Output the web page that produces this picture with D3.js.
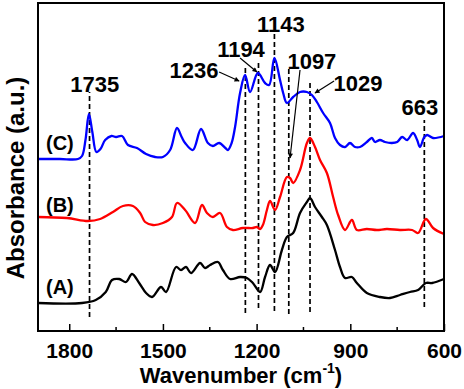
<!DOCTYPE html>
<html>
<head>
<meta charset="utf-8">
<script src="https://cdn.jsdelivr.net/npm/d3@7"></script>
<style>
  body { margin: 0; background: #fff; }
  svg { display: block; font-family: "Liberation Sans", Arial, sans-serif; font-weight: bold; }
</style>
</head>
<body>
<script>
// spectra, wavenumber (cm-1) and absorbance in arbitrary units
var wnC = [1900,1830,1772,1759,1748,1737,1726,1713,1700,1685,1665,1650,1631,1612,1583,1554,1525,1500,1477,1455,1440,1429,1404,1378,1356,1340,1320,1300,1292,1280,1269,1253,1237,1221,1196,1173,1160,1143,1125,1115,1103,1083,1061,1039,1023,1007,987,965,949,933,917,901,885,869,847,831,821,805,789,767,750,734,718,699,686,677,663,654,635,600];
var absC = [172,172,172,175,191,217,199,179,182,191,195,194,195,186,183,177,174,174,181,203,194,188,181,202,188,185,188,183,181,188,204,238,256,239,258,248,246,273,251,238,228,234,239,239,236,229,218,208,193,186,184,188,184,184,189,193,189,191,189,188,189,194,191,198,191,184,194,196,193,195];

var wnB = [1900,1807,1740,1701,1660,1628,1596,1573,1557,1532,1500,1471,1455,1429,1397,1375,1359,1340,1317,1295,1276,1244,1212,1199,1189,1180,1167,1157,1141,1125,1103,1093,1083,1061,1039,1029,1013,997,975,955,939,917,895,879,847,815,783,741,702,683,658,635,600];
var absB = [114,113,110,112,119,125,125,118,109,106,108,114,128,121,108,126,118,114,118,104,101,103,103,104,102,106,121,130,121,134,154,153,148,161,188,193,184,171,158,134,116,101,111,101,102,101,102,101,101,98,112,103,97];

var wnA = [1900,1759,1715,1683,1663,1640,1618,1599,1576,1554,1535,1506,1490,1458,1442,1426,1410,1381,1365,1349,1324,1308,1285,1253,1231,1212,1189,1173,1157,1141,1119,1103,1083,1061,1039,1029,1013,991,975,949,933,917,895,879,847,805,773,741,709,683,658,638,600];
var absA = [28,28,31,39,51,52,49,57,48,38,34,44,39,64,61,64,58,68,63,66,69,61,52,54,53,48,39,54,66,59,81,94,98,118,129,133,124,114,106,81,64,53,54,48,38,34,33,36,39,41,48,48,52];

var seriesNames = ["(A)", "(B)", "(C)"];
var xTicks = [1800, 1500, 1200, 900, 600];
var xMinorTicks = [1650, 1350, 1050, 750];
var peakWn = [1735, 1236, 1194, 1143, 1097, 1029, 663];
var peakLabels = ["1735", "1236", "1194", "1143", "1097", "1029", "663"];

window.onload = function(){

    var w = 464, h = 389;
    var left = 38, right = 444, top = 3, bottom = 331;

    var x = d3.scaleLinear().domain([1900, 600]).range([left, right]);
    var y = d3.scaleLinear().domain([0, 328]).range([bottom, top]);

    var svg = d3.select("body").append("svg")
        .attr("width", w)
        .attr("height", h);

    svg.append("defs").append("marker")
        .attr("id", "arrow")
        .attr("viewBox", "0 0 10 10")
        .attr("refX", 9).attr("refY", 5)
        .attr("markerWidth", 6).attr("markerHeight", 5)
        .attr("markerUnits", "userSpaceOnUse")
        .attr("orient", "auto")
        .append("path")
        .attr("d", "M0,0 L10,5 L0,10 Z")
        .attr("fill", "#000");

    var spectra = [
        { name: seriesNames[0], wn: wnA, abs: absA, color: "#000000", lx: 1830, ly: 37 },
        { name: seriesNames[1], wn: wnB, abs: absB, color: "#ff0000", lx: 1830, ly: 119 },
        { name: seriesNames[2], wn: wnC, abs: absC, color: "#0000ff", lx: 1830, ly: 181 }
    ];

    //dashed guide lines, extent in absorbance units
    var guideSpan = [[14,239],[18,266],[23,271],[20,297],[17,264],[19,251],[24,211]];
    //label anchor [wn, abs, anchor] and optional arrow [wn0, a0, wn1, a1]
    var labelPos = [
        [1718, 239, "middle", null],
        [1322, 253, "end", [1320, 259, 1256, 250]],
        [1250, 274, "middle", [1253, 273, 1199, 259]],
        [1122, 299, "middle", null],
        [1023, 262, "middle", [1061, 261, 1093, 173]],
        [954, 240, "start", [952, 250, 1013, 238]],
        [677, 216, "middle", null]
    ];

    svg.selectAll(".guide")
        .data(peakWn)
        .enter()
        .append("line")
        .attr("class", "guide")
        .attr("x1", function(d){ return x(d); })
        .attr("x2", function(d){ return x(d); })
        .attr("y1", function(d, i){ return y(guideSpan[i][0]); })
        .attr("y2", function(d, i){ return y(guideSpan[i][1]); })
        .style("stroke", "#000")
        .style("stroke-width", 1.7)
        .style("stroke-dasharray", "5,3");

    var line = d3.line()
        .x(function(d){ return x(d[0]); })
        .y(function(d){ return y(d[1]); })
        .curve(d3.curveCatmullRom.alpha(0.5));

    svg.selectAll(".spectrum")
        .data(spectra)
        .enter()
        .append("path")
        .attr("class", "spectrum")
        .attr("d", function(s){
            return line(s.wn.map(function(v, i){ return [v, s.abs[i]]; }));
        })
        .style("fill", "none")
        .style("stroke", function(s){ return s.color; })
        .style("stroke-width", 2.3);

    svg.selectAll(".curveLabel")
        .data(spectra)
        .enter()
        .append("text")
        .attr("class", "curveLabel")
        .attr("x", function(s){ return x(s.lx); })
        .attr("y", function(s){ return y(s.ly); })
        .attr("text-anchor", "middle")
        .style("font-size", "20px")
        .text(function(s){ return s.name; });

    svg.selectAll(".peakLabel")
        .data(peakLabels)
        .enter()
        .append("text")
        .attr("class", "peakLabel")
        .attr("x", function(d, i){ return x(labelPos[i][0]); })
        .attr("y", function(d, i){ return y(labelPos[i][1]); })
        .attr("text-anchor", function(d, i){ return labelPos[i][2]; })
        .style("font-size", "22px")
        .text(function(d){ return d; });

    svg.selectAll(".pointer")
        .data(labelPos.filter(function(p){ return p[3]; }))
        .enter()
        .append("line")
        .attr("class", "pointer")
        .attr("x1", function(p){ return x(p[3][0]); })
        .attr("y1", function(p){ return y(p[3][1]); })
        .attr("x2", function(p){ return x(p[3][2]); })
        .attr("y2", function(p){ return y(p[3][3]); })
        .style("stroke", "#000")
        .style("stroke-width", 1.2)
        .attr("marker-end", "url(#arrow)");

    //frame
    svg.append("rect")
        .attr("x", left).attr("y", top)
        .attr("width", right - left).attr("height", bottom - top)
        .style("fill", "none")
        .style("stroke", "#000")
        .style("stroke-width", 2);

    var xAxis = d3.axisBottom(x)
        .tickValues(xTicks)
        .tickFormat(d3.format("d"))
        .tickSizeInner(-7)
        .tickSizeOuter(0)
        .tickPadding(12);

    var axis = svg.append("g")
        .attr("transform", "translate(0," + bottom + ")")
        .call(xAxis);
    axis.select(".domain").remove();
    axis.selectAll("line").style("stroke-width", 1.5);
    axis.selectAll("text")
        .style("font-size", "21px")
        .style("font-family", "Liberation Sans, Arial, sans-serif")
        .style("font-weight", "bold")
        .attr("fill", "#000");

    svg.append("g").selectAll("line")
        .data(xMinorTicks)
        .enter()
        .append("line")
        .attr("x1", function(d){ return x(d); })
        .attr("x2", function(d){ return x(d); })
        .attr("y1", bottom)
        .attr("y2", bottom - 4)
        .style("stroke", "#000")
        .style("stroke-width", 1.5);

    var xTitle = svg.append("text")
        .attr("x", (left + right) / 2)
        .attr("y", 383)
        .attr("text-anchor", "middle")
        .style("font-size", "22px");
    xTitle.append("tspan").text("Wavenumber (cm");
    xTitle.append("tspan").attr("dy", -10).style("font-size", "14px").text("-1");
    xTitle.append("tspan").attr("dy", 10).text(")");

    svg.append("text")
        .attr("transform", "translate(24,178) rotate(-90)")
        .attr("text-anchor", "middle")
        .style("font-size", "24px")
        .text("Absorbance (a.u.)");
};
</script>
</body>
</html>
